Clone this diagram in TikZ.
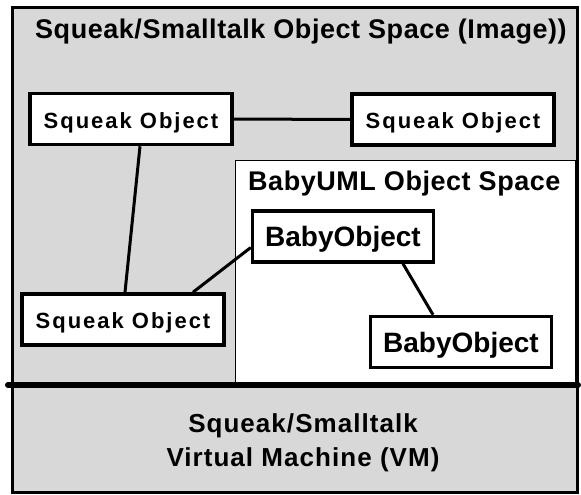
\documentclass[tikz,border=0pt]{standalone}
\usepackage{fontspec}
\setmainfont{Liberation Sans}
\newfontfamily\spacefont[LetterSpace=2]{Liberation Sans}
\newfontfamily\vmfont[LetterSpace=4]{Liberation Sans}
\newfontfamily\objfont[LetterSpace=9]{Liberation Sans}
\definecolor{imagegray}{RGB}{217,216,217}

\begin{document}
\begin{tikzpicture}[x=1pt,y=-1pt,
  imagebox/.style={draw,line width=3pt,fill=imagegray},
  babybox/.style={draw,line width=1pt,fill=white},
  divider/.style={line width=6pt,line cap=round},
  wire/.style={line width=3pt},
  spacetitle/.style={inner sep=0pt,font=\spacefont\bfseries\fontsize{27}{32}\selectfont},
  sqobj/.style={draw,fill=white,line width=3.5pt,inner sep=0pt,minimum width=202pt,minimum height=51pt,
    text height=18pt,text depth=0pt,font=\objfont\bfseries\fontsize{22}{26}\selectfont},
  babyobj/.style={draw,fill=white,line width=3.5pt,inner sep=0pt,minimum width=181pt,minimum height=51pt,
    text height=20pt,text depth=0pt,font=\bfseries\fontsize{28}{34}\selectfont},
  vmtext/.style={inner sep=0pt,align=center,font=\vmfont\bfseries\fontsize{26}{34}\selectfont}]
\useasboundingbox (0,0) rectangle (581,495);
\draw[imagebox] (12,8) rectangle (577,492);
\draw[babybox] (235,160) rectangle (575,385);
\coordinate (divL) at (8,385);
\coordinate (divR) at (578,385);
\draw[divider] (divL) -- (divR);

\node[spacetitle,anchor=base west] (imgtitle) at (35,39) {Squeak/Smalltalk Object Space (Image))};
\node[spacetitle,anchor=base west] (babytitle) at (248,190) {BabyUML Object Space};
\node[sqobj] (sq1) at (131,119) {Squeak Object};
\node[sqobj] (sq2) at (453,119.5) {Squeak Object};
\node[sqobj] (sq3) at (123,319.5) {Squeak Object};
\node[babyobj] (bo1) at (343,236.5) {BabyObject};
\node[babyobj] (bo2) at (461,342) {BabyObject};
\node[vmtext] (vm) at (303,443) {Squeak/Smalltalk\\Virtual Machine (VM)};

\draw[wire] (sq1) -- (sq2);
\draw[wire] ([xshift=9pt]sq1.south) -- ([xshift=2pt]sq3.north);
\draw[wire] ([xshift=70pt]sq3.north) -- ([yshift=-11pt]bo1.west);
\draw[wire] ([xshift=60pt]bo1.south) -- ([xshift=-28pt]bo2.north);
\end{tikzpicture}
\end{document}
